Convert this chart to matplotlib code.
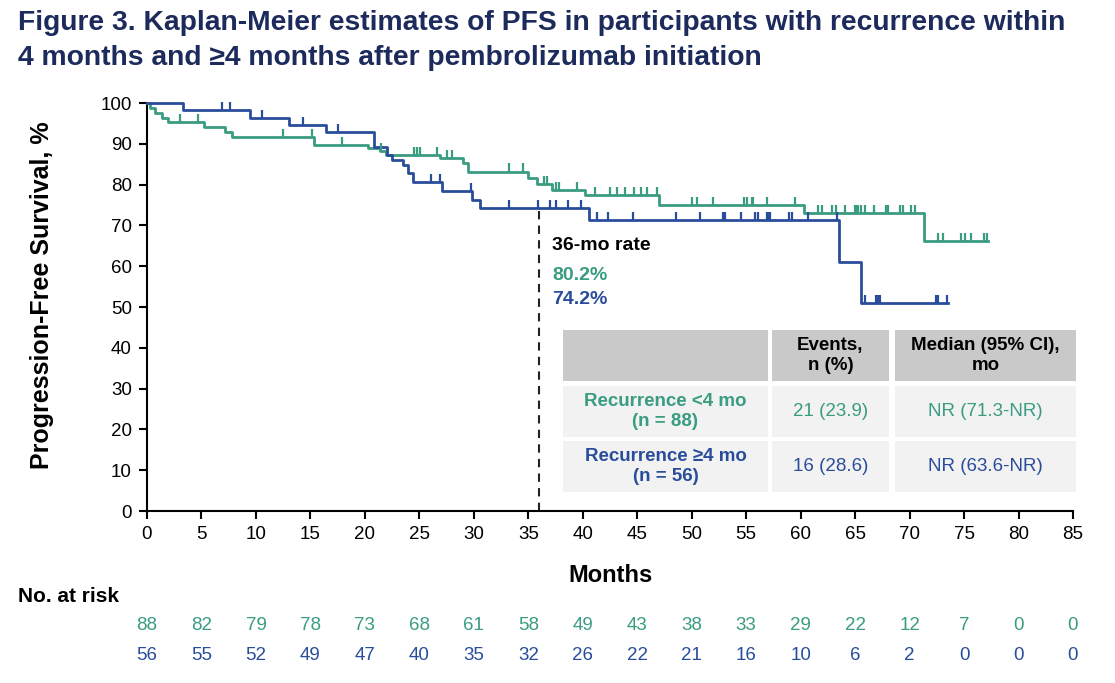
import matplotlib
matplotlib.use('Agg')
import matplotlib.pyplot as plt
import numpy as np
from matplotlib.patches import Rectangle
from matplotlib.transforms import blended_transform_factory

plt.rcParams['font.family'] = ['Liberation Sans', 'DejaVu Sans']

GREEN = '#3a9c80'
BLUE = '#2a4d9b'
NAVY = '#1c2a5c'

# --- data ---
# Recurrence <4 mo (green)
green_event_t = [0.3, 0.7, 1.35, 1.95, 5.2, 7.2, 7.8, 15.3, 20.3, 21.4, 21.9, 26.9, 29.0, 29.5,
                 35.0, 35.8, 37.2, 40.2, 47.0, 60.3, 71.3]
green_surv = [98.7, 97.5, 96.4, 95.4, 94.0, 93.0, 91.7, 89.7, 88.9, 88.3, 87.3, 86.4, 85.2, 83.2,
              81.6, 80.2, 78.7, 77.5, 75.0, 73.0, 66.2]
green_end = 77.2
green_censor = [3.0, 4.7, 12.5, 15.1, 17.9, 21.5, 24.5, 24.8, 25.1, 26.6, 27.5, 28.0, 33.2, 34.5,
                36.4, 36.7, 37.5, 37.8, 39.5, 41.1, 42.5, 43.1, 43.9, 44.7, 45.3, 45.9, 46.8,
                50.0, 50.5, 52.0, 54.8, 55.1, 55.5, 55.6, 56.9, 59.5, 61.6, 62.0, 62.9, 63.2,
                64.1, 65.0, 65.2, 65.3, 65.5, 65.9, 66.7, 67.8, 68.0, 69.1, 69.4, 70.1, 70.5,
                72.6, 73.1, 74.7, 75.1, 75.6, 76.8, 77.1]

# Recurrence >=4 mo (blue)
blue_event_t = [3.3, 9.5, 13.0, 16.4, 20.8, 22.0, 22.5, 23.5, 24.0, 24.4, 27.1, 29.8, 30.6,
                40.6, 63.5, 65.5]
blue_surv = [98.2, 96.4, 94.6, 92.8, 89.3, 87.3, 86.0, 84.8, 82.8, 80.7, 78.4, 76.2, 74.2,
             71.3, 61.1, 50.9]
blue_end = 73.5
blue_censor = [6.9, 7.6, 10.6, 14.3, 17.5, 26.1, 26.9, 29.7, 33.2, 35.9, 37.0, 37.5, 38.6, 39.8,
               41.3, 42.3, 44.6, 48.6, 50.8, 52.9, 53.1, 54.5, 55.8, 56.1, 56.9, 57.0, 57.2,
               58.9, 59.2, 60.7, 63.3, 65.9, 66.9, 67.1, 67.3, 72.4, 72.6, 73.4]

risk_times = list(range(0, 90, 5))
green_risk = [88, 82, 79, 78, 73, 68, 61, 58, 49, 43, 38, 33, 29, 22, 12, 7, 0, 0]
blue_risk = [56, 55, 52, 49, 47, 40, 35, 32, 26, 22, 21, 16, 10, 6, 2, 0, 0, 0]

rate_month = 36
green_rate = 80.2
blue_rate = 74.2

table_header = ['', 'Events,\nn (%)', 'Median (95% CI),\nmo']
table_rows = [['Recurrence <4 mo\n(n = 88)', '21 (23.9)', 'NR (71.3-NR)'],
              ['Recurrence \u22654 mo\n(n = 56)', '16 (28.6)', 'NR (63.6-NR)']]
row_colors = [GREEN, BLUE]

W, H = 1115, 683
fig = plt.figure(figsize=(W / 100, H / 100), dpi=100)


def fx(x):
    return x / W


def fy(y):
    return 1 - y / H


ax = fig.add_axes([fx(147), fy(511), fx(1073) - fx(147), fy(103) - fy(511)])


def km_line(t, s, end, color):
    xs = np.r_[0, t, end]
    ys = np.r_[100, s, s[-1]]
    ax.step(xs, ys, where='post', color=color, lw=2.0, clip_on=False, zorder=3)


def surv_at(t, s, x):
    idx = np.searchsorted(t, x, side='right') - 1
    return 100.0 if idx < 0 else s[idx]


km_line(green_event_t, green_surv, green_end, GREEN)
km_line(blue_event_t, blue_surv, blue_end, BLUE)

for cens, t, s, c in [(green_censor, green_event_t, green_surv, GREEN),
                      (blue_censor, blue_event_t, blue_surv, BLUE)]:
    lo = [surv_at(t, s, x) for x in cens]
    ax.vlines(cens, lo, np.array(lo) + 2.0, color=c, lw=1.6, zorder=3, clip_on=False)

ax.plot([rate_month, rate_month], [0, blue_rate], ls=(0, (4, 3)), color='#222222', lw=1.5)

ax.set_xlim(0, 85)
ax.set_ylim(0, 100)
ax.set_xticks(range(0, 90, 5))
ax.set_yticks(range(0, 110, 10))
ax.spines['top'].set_visible(False)
ax.spines['right'].set_visible(False)
for sp in ['left', 'bottom']:
    ax.spines[sp].set_linewidth(1.5)
ax.tick_params(direction='out', length=6, width=1.5, labelsize=13.5, colors='black', pad=5)
ax.set_xlabel('Months', fontsize=17, fontweight='bold')
ax.set_ylabel('Progression-Free Survival, %', fontsize=18, fontweight='bold')
ax.xaxis.set_label_coords(0.5, -0.13)
ax.yaxis.set_label_coords(-0.1, 0.53)

# 36-month annotation
ax.text(37.2, 65.0, '36-mo rate', fontsize=14, fontweight='bold', color='black', va='center')
ax.text(37.2, 57.6, f'{green_rate}%', fontsize=14, fontweight='bold', color=GREEN, va='center')
ax.text(37.2, 51.8, f'{blue_rate}%', fontsize=14, fontweight='bold', color=BLUE, va='center')

# summary table
col_x = [(563, 768), (772, 889), (895, 1076)]
row_y = [(330, 381), (386, 437), (441, 492)]
for r, (y0, y1) in enumerate(row_y):
    for c, (x0, x1) in enumerate(col_x):
        face = '#c9c9c9' if r == 0 else '#f2f2f2'
        fig.patches.append(Rectangle((fx(x0), fy(y1)), fx(x1) - fx(x0), fy(y0) - fy(y1),
                                     transform=fig.transFigure, facecolor=face, edgecolor='none'))
        if r == 0:
            txt, color, weight = table_header[c], 'black', 'bold'
        else:
            txt, color = table_rows[r - 1][c], row_colors[r - 1]
            weight = 'bold' if c == 0 else 'normal'
        fig.text(fx((x0 + x1) / 2), fy((y0 + y1) / 2), txt, ha='center', va='center',
                 fontsize=13.5, fontweight=weight, color=color, linespacing=1.2)

# title
fig.text(fx(18), fy(10), 'Figure 3. Kaplan-Meier estimates of PFS in participants with recurrence within\n'
         '4 months and \u22654 months after pembrolizumab initiation',
         ha='left', va='top', fontsize=20.3, fontweight='bold', color=NAVY, linespacing=1.45)

# number at risk
fig.text(fx(18), fy(596), 'No. at risk', ha='left', va='center', fontsize=15, fontweight='bold')
tr = blended_transform_factory(ax.transData, fig.transFigure)
for x, g, b in zip(risk_times, green_risk, blue_risk):
    ax.text(x, fy(626), str(g), transform=tr, ha='center', va='center', fontsize=13.5, color=GREEN)
    ax.text(x, fy(655), str(b), transform=tr, ha='center', va='center', fontsize=13.5, color=BLUE)

fig.savefig('out.png', dpi=100)
